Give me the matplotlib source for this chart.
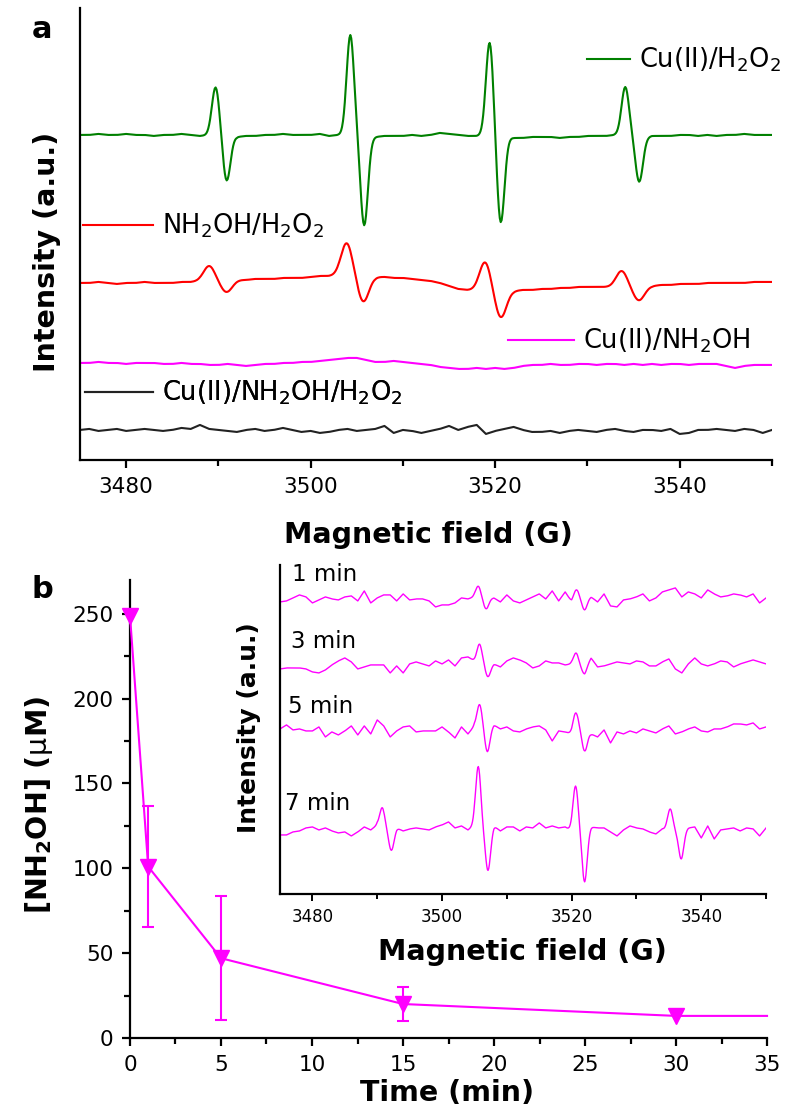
import numpy as np
import matplotlib
matplotlib.use("Agg")
import matplotlib.pyplot as plt
from matplotlib.ticker import MultipleLocator

# ---------------- data ----------------
# EPR spectra: baseline wiggle read at 1 G steps from 3475 G, plus the
# positive / negative lobes of each line (field, height, field, depth)
field_start = 3475
field_stop = 3550

green_level = 325
green_wiggle = [0, 0, 1, 0, 0, 1, 0, 0, -1, 0,
                0, 1, 0, -1, 0, 0, 0, -2, -1, -1,
                0, 0, 1, 0, 0, 0, 1, -1, 0, 0,
                0, -3, -2, -1, -1, -1, 0, -1, 0, 2,
                1, 0, -1, -1, 0, 0, -2, -3, -3, -2,
                -2, -2, -3, -2, -2, -1, -1, -1, 0, 0,
                0, -3, -1, -1, -1, 0, 0, -1, 0, -1,
                0, 0, 1, 0, 0, 0]
green_lobes = [(3489.7, 48, 3490.9, 46), (3504.3, 100, 3505.8, 88),
               (3519.4, 93, 3520.6, 87), (3534.1, 48, 3535.6, 45)]

red_level = 177
red_wiggle = [0, 0, 1, 0, -1, 0, 0, 1, 0, 0,
              0, 1, 1, 2, 2, 2, 3, 3, 3, 4,
              4, 4, 5, 5, 5, 6, 7, 7, 8, 8,
              8, 7, 6, 6, 5, 5, 4, 3, 2, 0,
              -3, -6, -7, -7, -7, -7, -8, -8, -7, -7,
              -6, -6, -5, -5, -4, -4, -4, -4, -4, -4,
              -4, -3, -3, -2, -2, -1, -1, -1, 0, 0,
              0, 0, 0, 1, 1, 1]
red_lobes = [(3489.0, 15, 3490.9, 12), (3503.9, 32, 3505.7, 26),
             (3518.9, 28, 3520.6, 27), (3533.7, 16, 3535.6, 14)]

pink_level = 97
pink_wiggle = [0, 0, 1, 0, 0, -1, 0, 0, 0, -1,
               -1, 0, -1, -1, -2, -2, -1, -2, -3, -2,
               -1, -1, 0, 0, 1, 1, 2, 3, 4, 5,
               5, 3, 1, 1, 2, 1, 0, -1, -2, -4,
               -5, -6, -6, -5, -6, -5, -6, -5, -3, -2,
               -2, -1, -2, -2, -1, -1, -2, -1, -1, -2,
               -1, -2, -1, -2, -1, -1, -2, -1, -1, -1,
               -3, -5, -3, -2, -2, -2]

black_level = 30
black_wiggle = [0, 1, -1, 0, 1, -1, 0, 1, 0, -1,
                0, 2, 1, 5, 1, 0, -1, -2, 0, 1,
                -1, 0, 2, 0, -2, -1, -3, -2, 0, 1,
                -1, 0, 1, 4, -3, 0, -1, -3, -1, 1,
                4, 0, 3, 5, -4, -1, 1, 3, 0, -2,
                -2, -1, -3, -1, 0, -1, -2, 0, 1, -1,
                -2, 0, 0, -1, 1, -4, -3, 0, 0, 1,
                0, -1, 1, 0, -3, 0]

# inset spectra after 1, 3, 5, 7 min
min1_level = 295
min1_wiggle = [-3, -2, 1, 4, 2, -4, -1, 2, 0, -1,
               2, 3, -2, 8, -4, 1, 4, 4, -2, 5,
               -1, 0, 0, -2, -8, -6, -6, -4, 1, 0,
               2, 0, 0, 1, -3, 4, -2, -4, -1, 2,
               5, 0, 8, -2, 7, -3, 0, 0, 2, -3,
               5, -7, -8, -1, 0, 2, 5, -2, 1, 7,
               9, 11, 2, 7, 5, 1, 9, 5, 2, 3,
               5, 4, 2, 5, -4, 1]
min1_lobes = [(3505.6, 12, 3506.8, 10), (3520.7, 10, 3522.0, 11)]

min3_level = 227
min3_wiggle = [-2, -1, -1, -1, -2, -5, -6, -3, 2, 6,
               9, 5, -2, 0, 2, 2, 2, -6, 1, -6,
               3, 5, 3, 1, 6, 3, 7, 1, 9, 10,
               6, 2, 1, 3, 0, 6, 9, 7, 4, -1,
               1, 6, 4, 4, 2, 3, 0, 0, 9, 0,
               1, 3, 5, 4, 3, 6, 5, 1, 1, 5,
               8, -2, -6, 3, 9, 3, 1, 3, 6, 5,
               0, 3, 5, 7, 5, 3]
min3_lobes = [(3505.8, 20, 3507.1, 11), (3520.7, 13, 3522.0, 7)]

min5_level = 165
min5_wiggle = [0, 4, -1, 0, -2, -2, 2, -8, -3, -6,
               -2, 3, -6, 3, -5, 9, 3, -8, -2, 2,
               3, -3, -2, -2, -2, 2, -3, -9, 2, -5,
               3, 0, 0, 4, 0, 2, -2, -3, 0, 2,
               3, -1, -12, -2, -3, -5, 0, 0, -5, -8,
               -1, -14, -3, -5, -2, -4, 0, -2, -4, 0,
               3, -5, -3, 0, 2, -2, -3, 0, 0, 2,
               5, 5, 4, 6, 0, 2]
min5_lobes = [(3505.8, 24, 3507.0, 23), (3520.6, 18, 3522.0, 22)]

min7_level = 63
min7_wiggle = [-4, -4, -1, 0, 3, 4, 1, 3, 0, -2,
               -1, -5, -1, 4, 1, 6, 0, 0, 3, 0,
               2, 3, 2, 1, 4, 6, 9, 3, 5, 1,
               6, 0, 0, 5, 0, 4, 4, 0, 4, 3,
               8, 3, 5, 3, 4, 0, 0, 0, 4, 3,
               3, -1, -5, 1, 5, 3, 2, -1, -3, 2,
               0, 0, 0, 3, 4, -7, 5, -8, 1, 2,
               3, 0, 3, 2, -5, 3]
min7_lobes = [(3490.8, 22, 3492.2, 20), (3505.6, 62, 3507.1, 40),
              (3520.6, 45, 3522.0, 51), (3535.2, 22, 3536.9, 28)]

inset_labels = ['1 min', '3 min', '5 min', '7 min']

# NH2OH consumption
time_min = np.array([0, 1, 5, 15, 30, 35])
nh2oh_uM = np.array([249, 101, 47, 20, 13, 13])
nh2oh_err = np.array([0, 35.5, 36.5, 10, 0, 0])

GREEN = '#008000'
RED = '#ff0000'
PINK = '#ff00ff'

field = np.arange(field_start, field_stop + 0.001, 0.1)


def spectrum(level, wiggle, lobes=(), width=0.4):
    coarse = np.arange(field_start, field_start + len(wiggle))
    y = level + np.interp(field, coarse, wiggle)
    for f_up, h_up, f_dn, h_dn in lobes:
        y = y + h_up * np.exp(-(field - f_up) ** 2 / (2 * width ** 2))
        y = y - h_dn * np.exp(-(field - f_dn) ** 2 / (2 * width ** 2))
    return y


fig = plt.figure(figsize=(7.96, 11.18), dpi=100)

# ---------------- panel a ----------------
ax = fig.add_axes([0.1005, 0.5886, 0.8693, 0.4043])
l_green, = ax.plot(field, spectrum(green_level, green_wiggle, green_lobes), color=GREEN, lw=1.5)
l_red, = ax.plot(field, spectrum(red_level, red_wiggle, red_lobes, 0.6), color=RED, lw=1.5)
l_pink, = ax.plot(field, spectrum(pink_level, pink_wiggle), color=PINK, lw=1.5)
l_black, = ax.plot(field, spectrum(black_level, black_wiggle), color='#222222', lw=1.5)
ax.set_xlim(field_start, field_stop)
ax.set_ylim(0, 452)
ax.set_yticks([])
ax.xaxis.set_major_locator(MultipleLocator(20))
ax.xaxis.set_minor_locator(MultipleLocator(10))
for s in ['top', 'right']:
    ax.spines[s].set_visible(False)
for s in ['left', 'bottom']:
    ax.spines[s].set_linewidth(1.6)
ax.tick_params(axis='x', which='major', direction='out', length=6, width=1.6, labelsize=15.5, pad=6)
ax.tick_params(axis='x', which='minor', direction='out', length=4, width=1.6)
ax.set_xlabel('Magnetic field (G)', fontsize=20.5, fontweight='bold')
ax.xaxis.set_label_coords(0.504, -0.135)
ax.set_ylabel('Intensity (a.u.)', fontsize=20.5, fontweight='bold')
ax.yaxis.set_label_coords(-0.027, 0.46)

leg_kw = dict(frameon=False, fontsize=18.5, borderpad=0, borderaxespad=0,
              handletextpad=0.35, loc='center left')
legs = [
    ax.legend([l_green], ['Cu(II)/H$_2$O$_2$'], bbox_to_anchor=(0.733, 0.885), handlelength=1.65, **leg_kw),
    ax.legend([l_red], ['NH$_2$OH/H$_2$O$_2$'], bbox_to_anchor=(0.004, 0.518), handlelength=2.75, **leg_kw),
    ax.legend([l_pink], ['Cu(II)/NH$_2$OH'], bbox_to_anchor=(0.618, 0.263), handlelength=2.6, **leg_kw),
    ax.legend([l_black], ['Cu(II)/NH$_2$OH/H$_2$O$_2$'], bbox_to_anchor=(0.007, 0.148), handlelength=2.65, **leg_kw),
]
for lg in legs:
    ax.add_artist(lg)

# ---------------- panel b ----------------
bx = fig.add_axes([0.1633, 0.0716, 0.8003, 0.4097])
bx.plot(time_min, nh2oh_uM, color=PINK, lw=1.5, marker='v', markersize=11,
        markevery=slice(0, 5), clip_on=False, zorder=3)
has_err = nh2oh_err > 0
bx.errorbar(time_min[has_err], nh2oh_uM[has_err], yerr=nh2oh_err[has_err], fmt='none',
            ecolor=PINK, elinewidth=1.5, capsize=4, capthick=1.5, zorder=2)
bx.set_xlim(0, 35)
bx.set_ylim(0, 270)
bx.xaxis.set_major_locator(MultipleLocator(5))
bx.xaxis.set_minor_locator(MultipleLocator(2.5))
bx.yaxis.set_major_locator(MultipleLocator(50))
bx.yaxis.set_minor_locator(MultipleLocator(25))
for s in ['top', 'right']:
    bx.spines[s].set_visible(False)
for s in ['left', 'bottom']:
    bx.spines[s].set_linewidth(1.6)
bx.tick_params(which='major', direction='out', length=6, width=1.6, labelsize=15.5, pad=6)
bx.tick_params(which='minor', direction='out', length=4, width=1.6)
bx.set_xlabel('Time (min)', fontsize=20.5, fontweight='bold')
bx.xaxis.set_label_coords(0.498, -0.09)
bx.set_ylabel(r'[NH$_\mathbf{2}$OH] ($\mathrm{\mu}$M)', fontsize=20.5, fontweight='bold')
bx.yaxis.set_label_coords(-0.118, 0.509)

# ---------------- inset ----------------
ix = fig.add_axes([0.3518, 0.2004, 0.6106, 0.2943], facecolor='none')
inset_traces = [spectrum(min1_level, min1_wiggle, min1_lobes),
                spectrum(min3_level, min3_wiggle, min3_lobes),
                spectrum(min5_level, min5_wiggle, min5_lobes),
                spectrum(min7_level, min7_wiggle, min7_lobes)]
label_pos = [(0.024, 0.97), (0.022, 0.767), (0.017, 0.571), (0.01, 0.274)]
for trace, lab, (tx, ty) in zip(inset_traces, inset_labels, label_pos):
    ix.plot(field, trace, color=PINK, lw=1.0)
    ix.text(tx, ty, lab, transform=ix.transAxes, fontsize=16.5, ha='left', va='center')
ix.set_xlim(field_start, field_stop)
ix.set_ylim(0, 329)
ix.set_yticks([])
ix.xaxis.set_major_locator(MultipleLocator(20))
ix.xaxis.set_minor_locator(MultipleLocator(10))
for s in ['top', 'right']:
    ix.spines[s].set_visible(False)
for s in ['left', 'bottom']:
    ix.spines[s].set_linewidth(1.6)
ix.tick_params(axis='x', which='major', direction='out', length=5, width=1.4, labelsize=12, pad=5)
ix.tick_params(axis='x', which='minor', direction='out', length=3.5, width=1.4)
ix.set_xlabel('Magnetic field (G)', fontsize=20.5, fontweight='bold')
ix.xaxis.set_label_coords(0.498, -0.135)
ix.set_ylabel('Intensity (a.u.)', fontsize=18, fontweight='bold')
ix.yaxis.set_label_coords(-0.04, 0.505)

fig.text(0.0528, 0.9732, 'a', fontsize=22, fontweight='bold', ha='center', va='center')
fig.text(0.0528, 0.4723, 'b', fontsize=22, fontweight='bold', ha='center', va='center')

fig.savefig('out.png', dpi=100)
